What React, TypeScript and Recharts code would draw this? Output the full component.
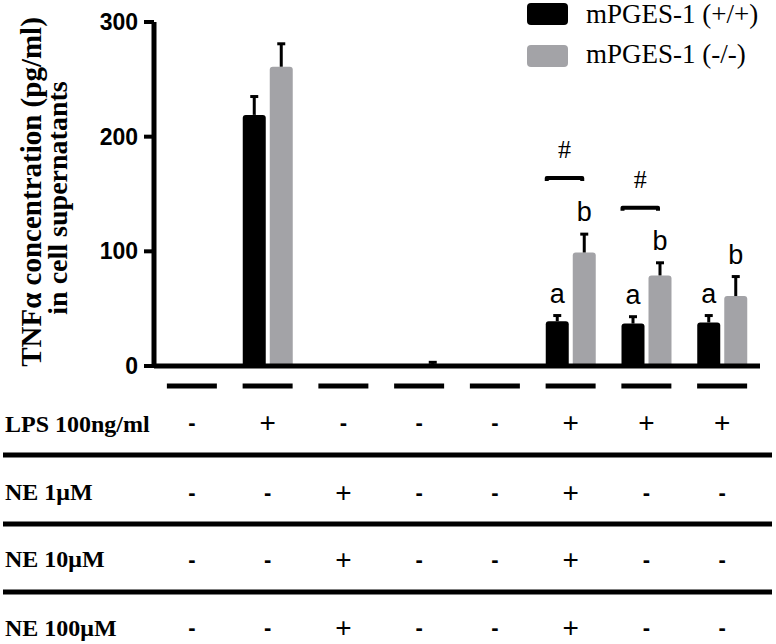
import React from "react";
import { BarChart, Bar, XAxis, YAxis, Legend, ErrorBar, Rectangle } from "recharts";

// 8 treatment groups, see rowSigns for what each one got
const groups = ["G1", "G2", "G3", "G4", "G5", "G6", "G7", "G8"];

const wildType = [0, 219, 0, 0, 0, 39, 37, 38];
const wildTypeSem = [0, 16, 0, 0, 0, 5, 6, 6];
const knockout = [0, 261, 0, 0.8, 0, 99, 79, 61];
const knockoutSem = [0, 20, 0, 2.4, 0, 16, 11, 17];

const wildTypeMarks = ["", "", "", "", "", "a", "a", "a"];
const knockoutMarks = ["", "", "", "", "", "b", "b", "b"];
const hashLevel: (number | null)[] = [null, null, null, null, null, 164, 138, null];

const yTicks = [0, 100, 200, 300];

const rowLabels = ["LPS 100ng/ml", "NE 1μM", "NE 10μM", "NE 100μM"];
const rowSigns = [
  ["-", "+", "-", "-", "-", "+", "+", "+"],
  ["-", "-", "+", "-", "-", "+", "-", "-"],
  ["-", "-", "+", "-", "-", "+", "-", "-"],
  ["-", "-", "+", "-", "-", "+", "-", "-"],
];

const GREY = "#a3a3a7";
const SANS = "'Liberation Sans', Arial, sans-serif";
const SERIF = "'Liberation Serif', 'Times New Roman', serif";

const data = groups.map((g, i) => ({
  group: g,
  wt: wildType[i],
  wtErr: [0, wildTypeSem[i]],
  wtSem: wildTypeSem[i],
  wtMark: wildTypeMarks[i],
  ko: knockout[i],
  koErr: [0, knockoutSem[i]],
  koSem: knockoutSem[i],
  koMark: knockoutMarks[i],
  hash: hashLevel[i],
}));

// bar rectangle plus the letter above its error bar (and the # bracket for the wt series)
const barShape = (series: "wt" | "ko") => (props: any) => {
  const { x, y, width, height, payload, fill, radius } = props;
  const v = payload?.[series] ?? 0;
  const h = Math.abs(height);
  const perUnit = v > 0 ? h / v : 0;
  const mark = payload?.[series + "Mark"];
  const sem = payload?.[series + "Sem"] ?? 0;
  const base = y + h;
  const extra: React.ReactNode[] = [];
  if (mark && perUnit) {
    const top = y - sem * perUnit;
    extra.push(
      <text key="m" x={x + width / 2} y={top - 13} textAnchor="middle" fontFamily={SANS} fontSize={27} fill="#000">
        {mark}
      </text>
    );
  }
  if (series === "wt" && payload?.hash != null && perUnit) {
    const yb = base - payload.hash * perUnit;
    const x1 = x + 1;
    const x2 = x + width * 1.5 + 2;
    extra.push(
      <path
        key="b"
        d={`M${x1},${yb + 3} L${x1},${yb} L${x2},${yb} L${x2},${yb + 3}`}
        stroke="#000"
        strokeWidth={4}
        fill="none"
        strokeLinejoin="round"
      />,
      <text key="h" x={(x1 + x2) / 2} y={yb - 20} textAnchor="middle" fontFamily={SERIF} fontSize={26} fill="#000">
        #
      </text>
    );
  }
  return (
    <g>
      {h > 0 && <Rectangle x={x} y={y} width={width} height={height} radius={radius} fill={fill} />}
      {extra}
    </g>
  );
};

const rowBaselines = [66, 136, 203, 271];

const GroupTick = (props: any) => {
  const { x, y, payload } = props;
  const i = payload.index;
  return (
    <g>
      <line x1={x - 25} x2={x + 25} y1={y + 20} y2={y + 20} stroke="#000" strokeWidth={5} />
      {rowSigns.map((row, r) => (
        <text
          key={r}
          x={x}
          y={y + rowBaselines[r] - (row[i] === "-" ? 2 : 0)}
          textAnchor="middle"
          fontFamily={SANS}
          fontSize={row[i] === "-" ? 22 : 28}
          fontWeight={row[i] === "-" ? "bold" : "normal"}
          fill="#000"
        >
          {row[i]}
        </text>
      ))}
    </g>
  );
};

const TableLabel = (props: any) => {
  const top = props.viewBox?.y ?? 366;
  const lines = [89, 158, 226];
  const labels = [66, 134, 201, 270];
  return (
    <g>
      {lines.map((dy, k) => (
        <line key={k} x1={3} x2={772} y1={top + dy} y2={top + dy} stroke="#000" strokeWidth={5} />
      ))}
      {rowLabels.map((t, k) => (
        <text key={t} x={5} y={top + labels[k]} fontFamily={SERIF} fontWeight="bold" fontSize={24} fill="#000">
          {t}
        </text>
      ))}
    </g>
  );
};

const AxisTitle = (props: any) => {
  const vb = props.viewBox ?? { y: 22, height: 344 };
  const cy = vb.y + vb.height / 2;
  return (
    <g fontFamily={SERIF} fontWeight="bold" fill="#000">
      <text x={41} y={cy - 2} transform={`rotate(-90 41 ${cy - 2})`} textAnchor="middle" fontSize={29}>
        TNFα concentration (pg/ml)
      </text>
      <text x={67} y={cy + 4} transform={`rotate(-90 67 ${cy + 4})`} textAnchor="middle" fontSize={28}>
        in cell supernatants
      </text>
    </g>
  );
};

const LegendBox = ({ payload }: any) => (
  <svg width={256} height={75}>
    {(payload ?? []).map((p: any, i: number) => (
      <g key={i}>
        <rect x={7} y={3 + i * 42} width={41} height={22} rx={4} fill={p.color} />
        <text x={66} y={23 + i * 40} fontFamily={SERIF} fontSize={27} fill="#000">
          {p.value}
        </text>
      </g>
    ))}
  </svg>
);

export default function App() {
  return (
    <div style={{ position: "absolute", left: 0, top: 0, width: 776, height: 644, background: "#fff" }}>
      <style>{`.recharts-errorBar line:nth-of-type(3){display:none}`}</style>
      <BarChart
        width={776}
        height={644}
        data={data}
        margin={{ top: 22, right: 16, left: 0, bottom: 0 }}
        barSize={23}
        barGap={4}
      >
        <XAxis
          dataKey="group"
          height={278}
          axisLine={{ stroke: "#000", strokeWidth: 5 }}
          tickLine={false}
          tickSize={0}
          tickMargin={0}
          interval={0}
          tick={<GroupTick />}
          label={<TableLabel />}
        />
        <YAxis
          width={154}
          domain={[0, 300]}
          ticks={yTicks}
          interval={0}
          axisLine={{ stroke: "#000", strokeWidth: 5 }}
          tickLine={{ stroke: "#000", strokeWidth: 4 }}
          tickSize={10}
          tickMargin={6}
          tick={{ fontFamily: SANS, fontWeight: "bold", fontSize: 23, fill: "#000" }}
          label={<AxisTitle />}
        />
        <Legend
          layout="horizontal"
          verticalAlign="middle"
          align="center"
          content={<LegendBox />}
          wrapperStyle={{ top: 0, left: 520, width: 256, height: 75 }}
        />
        <Bar
          dataKey="wt"
          name="mPGES-1 (+/+)"
          fill="#000"
          radius={[3, 3, 0, 0]}
          shape={barShape("wt")}
          isAnimationActive={false}
        >
          <ErrorBar dataKey="wtErr" width={4} stroke="#000" strokeWidth={3} isAnimationActive={false} />
        </Bar>
        <Bar
          dataKey="ko"
          name="mPGES-1 (-/-)"
          fill={GREY}
          radius={[3, 3, 0, 0]}
          shape={barShape("ko")}
          isAnimationActive={false}
        >
          <ErrorBar dataKey="koErr" width={4} stroke="#000" strokeWidth={3} isAnimationActive={false} />
        </Bar>
      </BarChart>
    </div>
  );
}
